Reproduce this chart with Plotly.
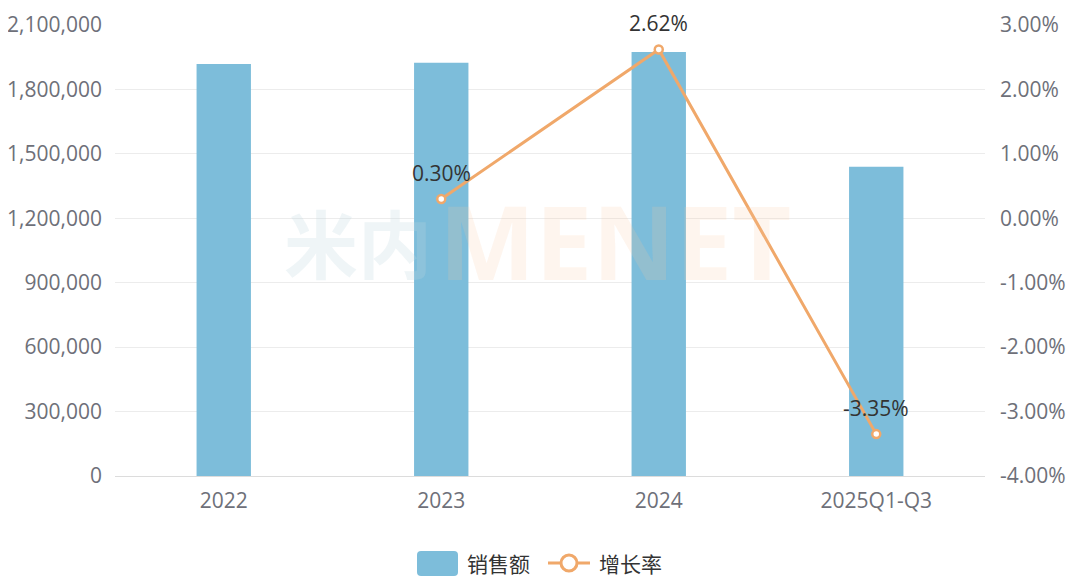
import plotly.graph_objects as go

categories = ["2022", "2023", "2024", "2025Q1-Q3"]
sales = [1918000, 1923800, 1974200, 1440000]
growth_x = ["2023", "2024", "2025Q1-Q3"]
growth = [0.30, 2.62, -3.35]
left_ticks = [0, 300000, 600000, 900000, 1200000, 1500000, 1800000, 2100000]
right_ticks = [-4, -3, -2, -1, 0, 1, 2, 3]

num_font = "Open Sans, sans-serif"
cjk_font = "Noto Sans CJK SC, sans-serif"
BAR = "#7dbdda"
LINE = "#f0a86a"

# plot area in window pixels (page has an 8px body offset)
PL, PR, PT, PB = 115, 985, 25, 476


def px(x):
    return (x - PL) / (PR - PL)


def py(y):
    return (PB - y) / (PB - PT)


fig = go.Figure()
fig.add_trace(go.Bar(
    x=categories, y=sales, name="销售额", width=0.25,
    marker=dict(color=BAR, line=dict(width=0)), yaxis="y", showlegend=False,
))
fig.add_trace(go.Scatter(
    x=growth_x, y=growth, name="增长率", yaxis="y2", mode="lines+markers",
    line=dict(color=LINE, width=3),
    marker=dict(symbol="circle", size=8, color="white", line=dict(color=LINE, width=2.5)),
    cliponaxis=False, showlegend=False,
))

annotations = []
for cx, v in zip(growth_x, growth):
    annotations.append(dict(x=categories.index(cx), y=v, xref="x", yref="y2", yshift=26, showarrow=False,
                            xanchor="center", yanchor="middle",
                            text=f"{v:.2f}%", font=dict(size=21, color="#333333", family=num_font)))

# watermark
annotations.append(dict(x=px(358), y=py(240), xref="paper", yref="paper", text="<b>米内</b>",
                        xanchor="center", yanchor="middle",
                        showarrow=False, font=dict(size=74, color="rgba(190,215,225,0.25)", family=cjk_font)))
annotations.append(dict(x=px(615), y=py(240), xref="paper", yref="paper", text="<b>MENET</b>",
                        xanchor="center", yanchor="middle",
                        showarrow=False, font=dict(size=102, color="rgba(250,200,160,0.18)", family=num_font)))

# custom legend texts
annotations.append(dict(x=px(465), y=py(563), xref="paper", yref="paper", xanchor="left", yanchor="middle",
                        text="销售额", showarrow=False, font=dict(size=21, color="#333333", family=cjk_font)))
annotations.append(dict(x=px(597), y=py(563), xref="paper", yref="paper", xanchor="left", yanchor="middle",
                        text="增长率", showarrow=False, font=dict(size=21, color="#333333", family=cjk_font)))


def rounded_rect(x0, y0, x1, y1, r):
    return (f"M {px(x0 + r)} {py(y0)} L {px(x1 - r)} {py(y0)} Q {px(x1)} {py(y0)} {px(x1)} {py(y0 + r)} "
            f"L {px(x1)} {py(y1 - r)} Q {px(x1)} {py(y1)} {px(x1 - r)} {py(y1)} "
            f"L {px(x0 + r)} {py(y1)} Q {px(x0)} {py(y1)} {px(x0)} {py(y1 - r)} "
            f"L {px(x0)} {py(y0 + r)} Q {px(x0)} {py(y0)} {px(x0 + r)} {py(y0)} Z")


shapes = [
    dict(type="path", xref="paper", yref="paper", path=rounded_rect(417, 551, 458, 576, 4),
         fillcolor=BAR, line=dict(width=0)),
    dict(type="line", xref="paper", yref="paper", x0=px(548), x1=px(590), y0=py(563), y1=py(563),
         line=dict(color=LINE, width=3)),
    dict(type="circle", xref="paper", yref="paper", x0=px(561), x1=px(577), y0=py(571), y1=py(555),
         fillcolor="white", line=dict(color=LINE, width=3)),
]

fig.update_layout(
    width=1080, height=583,
    margin=dict(l=107, r=103, t=17, b=115, autoexpand=False),
    paper_bgcolor="white", plot_bgcolor="white",
    font=dict(family=num_font, size=21, color="#6e7079"),
    xaxis=dict(type="category", categoryorder="array", categoryarray=categories,
               range=[-0.5, len(categories) - 0.5], autorange=False,
               showgrid=False, showline=True, linecolor="#dcdcdc", linewidth=1, automargin=False,
               ticks="", ticklabelstandoff=6, tickfont=dict(size=21, color="#6e7079", family=num_font)),
    yaxis=dict(range=[0, 2100000], tickvals=left_ticks, tickformat=",d", automargin=False,
               showgrid=True, gridcolor="#ececec", gridwidth=1, zeroline=False,
               ticks="", ticklabelstandoff=12, tickfont=dict(size=21, color="#6e7079", family=num_font)),
    yaxis2=dict(range=[-4, 3], tickvals=right_ticks, ticktext=[f"{t:.2f}%" for t in right_ticks],
                overlaying="y", side="right", showgrid=False, zeroline=False, automargin=False,
                ticks="", ticklabelstandoff=14, tickfont=dict(size=21, color="#6e7079", family=num_font)),
    annotations=annotations,
    shapes=shapes,
    showlegend=False,
)

fig.write_html("out.html")
